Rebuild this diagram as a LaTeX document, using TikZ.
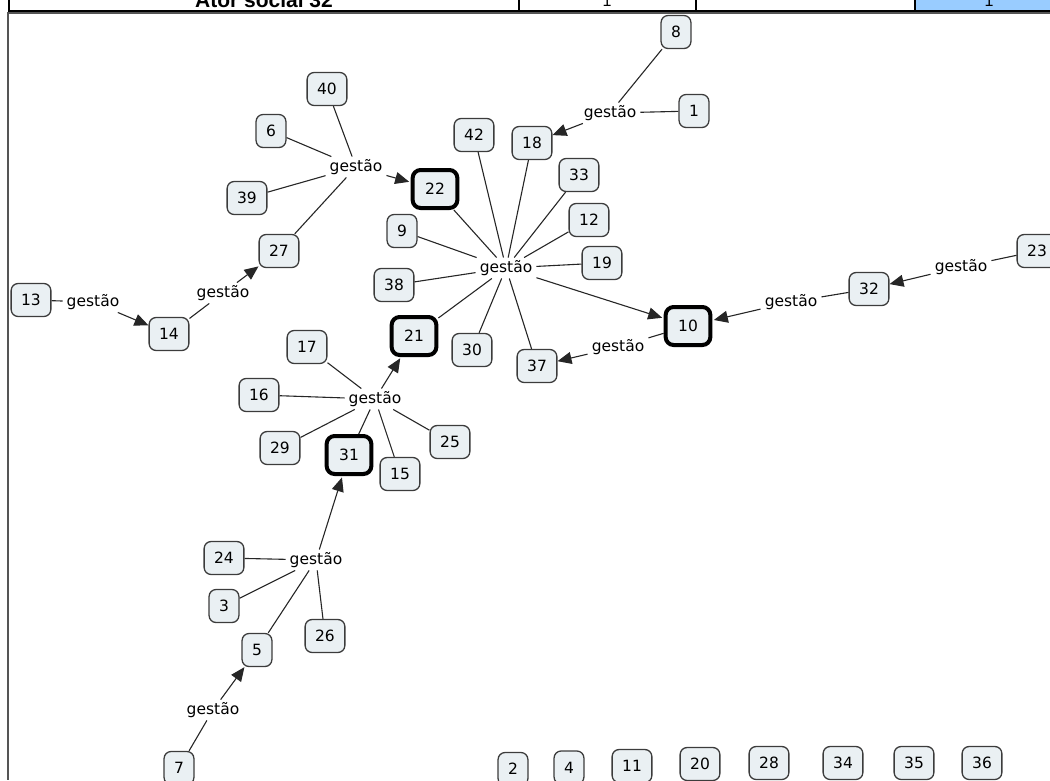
\documentclass[tikz,border=0pt]{standalone}
\usepackage{fontspec}
\setmainfont{DejaVu Sans}
\newfontfamily\tabfont{Liberation Sans}
\usetikzlibrary{arrows.meta}
\definecolor{boxfill}{RGB}{234,240,243}
\definecolor{boxline}{RGB}{60,60,60}
\definecolor{cellblue}{RGB}{153,204,255}
\definecolor{framegray}{RGB}{85,85,85}
\begin{document}
\begin{tikzpicture}[x=1pt,y=-1pt,
  every node/.style={font=\fontsize{15.5}{18}\selectfont},
  cbox/.style={draw=boxline, line width=1.3pt, fill=boxfill, rounded corners=7pt, inner xsep=10pt, inner ysep=0pt, minimum height=33pt, text depth=0pt},
  tbox/.style={draw=black, line width=4pt, fill=boxfill, rounded corners=8pt, inner xsep=12.5pt, inner ysep=0pt, minimum height=38pt, text depth=0pt},
  lk/.style={inner xsep=4pt, inner ysep=6pt, text height=8.5pt, text depth=0pt},
  ln/.style={draw=black!85, line width=1.1pt},
  ar/.style={ln, -{Triangle[length=14pt,width=12pt]}},
  tcell/.style={font=\tabfont\bfseries\fontsize{21}{24}\selectfont, anchor=base, inner sep=0pt},
  tnum/.style={font=\tabfont\fontsize{16}{19}\selectfont, anchor=base, inner sep=0pt},
]
\useasboundingbox (0,0) rectangle (1050,780);
\clip (0,0) rectangle (1050,780);
% table row at top
\fill[cellblue] (915,0) rectangle (1050,11);
\node[tcell] (hdr) at (264,7.3) {Ator social 32};
\node[tnum] (c1) at (607,6.5) {1};
\node[tnum] (c2) at (989,6.5) {1};
\draw[black, line width=1.5pt] (9,0) -- (9,11) (519,0) -- (519,11) (696,0) -- (696,11) (915,0) -- (915,11);
\draw[black, line width=1.5pt] (8,11) -- (1050,11);
% frame
\draw[framegray, line width=2pt] (8,13) -- (1050,13);
\draw[framegray, line width=1.5pt] (8,12) -- (8,780);

% concept boxes
\node[cbox] (n40) at (327,89) {40};
\node[cbox] (n6) at (271,131) {6};
\node[cbox] (n39) at (247,198) {39};
\node[cbox] (n27) at (279,251) {27};
\node[tbox] (n22) at (435,189) {22};
\node[cbox] (n9) at (402,231) {9};
\node[cbox] (n38) at (394,285) {38};
\node[cbox] (n42) at (474,135) {42};
\node[cbox] (n1) at (694,111) {1};
\node[cbox] (n8) at (676,32) {8};
\node[cbox] (n18) at (532,143) {18};
\node[cbox] (n33) at (579,175) {33};
\node[cbox] (n12) at (589,220) {12};
\node[cbox] (n19) at (602,263) {19};
\node[tbox] (n10) at (688,326) {10};
\node[cbox] (n37) at (537,366) {37};
\node[cbox] (n30) at (472,350) {30};
\node[cbox] (n32) at (869,289) {32};
\node[cbox] (n23) at (1037,251) {23};
\node[cbox] (n13) at (31,300) {13};
\node[cbox] (n14) at (169,334) {14};
\node[tbox] (n21) at (414,336) {21};
\node[cbox] (n17) at (307,347) {17};
\node[cbox] (n16) at (259,395) {16};
\node[cbox] (n29) at (280,448) {29};
\node[tbox] (n31) at (349,455) {31};
\node[cbox] (n15) at (400,474) {15};
\node[cbox] (n25) at (450,442) {25};
\node[cbox] (n24) at (224,558) {24};
\node[cbox] (n3) at (224,606) {3};
\node[cbox] (n26) at (325,636) {26};
\node[cbox] (n5) at (257,650) {5};
\node[cbox] (n7) at (179,768) {7};
\node[cbox] (n2) at (513,769) {2};
\node[cbox] (n4) at (569,767.5) {4};
\node[cbox] (n11) at (632,766) {11};
\node[cbox] (n20) at (700,764) {20};
\node[cbox] (n28) at (769,763) {28};
\node[cbox] (n34) at (843,763) {34};
\node[cbox] (n35) at (914,763) {35};
\node[cbox] (n36) at (982,763) {36};

% linking phrases
\node[lk] (gA) at (356,167) {gestão};
\node[lk] (gB) at (610,113) {gestão};
\node[lk] (gC) at (506,268) {gestão};
\node[lk] (gD) at (618,347) {gestão};
\node[lk] (gE) at (791,302) {gestão};
\node[lk] (gF) at (961,267) {gestão};
\node[lk] (gG) at (93,302) {gestão};
\node[lk] (gH) at (223,293) {gestão};
\node[lk] (gI) at (375,399) {gestão};
\node[lk] (gJ) at (316,560) {gestão};
\node[lk] (gK) at (213,710) {gestão};

% connectors
\draw[ln] (n40) -- (gA);
\draw[ln] (n6) -- (gA);
\draw[ln] (n39) -- (gA);
\draw[ln] (n27) -- (gA);
\draw[ar, shorten >=1.5pt] (gA) -- (n22);

\draw[ln] (n8) -- (gB);
\draw[ln] (n1) -- (gB);
\draw[ar] (gB) -- (n18);

\draw[ln] (n42) -- (gC);
\draw[ln] (n18) -- (gC);
\draw[ln] (n33) -- (gC);
\draw[ln] (n12) -- (gC);
\draw[ln] (n19) -- (gC);
\draw[ln] (n22) -- (gC);
\draw[ln] (n9) -- (gC);
\draw[ln] (n38) -- (gC);
\draw[ln] (n21) -- (gC);
\draw[ln] (n30) -- (gC);
\draw[ln] (n37) -- (gC);
\draw[ar, shorten >=1.5pt] (gC) -- (n10);

\draw[ln] (n10) -- (gD);
\draw[ar] (gD) -- (n37);

\draw[ln] (n32) -- (gE);
\draw[ar, shorten >=1.5pt] (gE) -- (n10);

\draw[ln] (n23) -- (gF);
\draw[ar] (gF) -- (n32);

\draw[ln] (n13) -- (gG);
\draw[ar] (gG) -- (n14);

\draw[ln] (n14) -- (gH);
\draw[ar] (gH) -- (n27);

\draw[ln] (n17) -- (gI);
\draw[ln] (n16) -- (gI);
\draw[ln] (n29) -- (gI);
\draw[ln] (n31) -- (gI);
\draw[ln] (n15) -- (gI);
\draw[ln] (n25) -- (gI);
\draw[ar, shorten >=1.5pt] (gI) -- (n21);

\draw[ln] (n24) -- (gJ);
\draw[ln] (n3) -- (gJ);
\draw[ln] (n5) -- (gJ);
\draw[ln] (n26) -- (gJ);
\draw[ar, shorten >=1.5pt] (gJ) -- (n31);

\draw[ln] (n7) -- (gK);
\draw[ar] (gK) -- (n5);
\end{tikzpicture}
\end{document}
